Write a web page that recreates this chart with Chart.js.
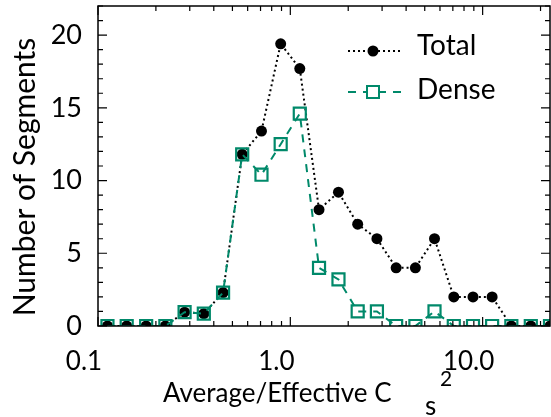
<!DOCTYPE html>
<html>
<head>
<meta charset="utf-8">
<script src="https://cdn.jsdelivr.net/npm/chart.js@4.4.1/dist/chart.umd.min.js"></script>
<style>
  html, body { margin: 0; padding: 0; background: #fff; }
  #wrap { width: 551px; height: 417px; position: relative; }
</style>
</head>
<body>
<div id="wrap"><canvas id="c"></canvas></div>
<script>
// bin centres (Average/Effective Cs^2), log spaced
const binCentres = [0.112, 0.141, 0.178, 0.224, 0.282, 0.355, 0.447, 0.562, 0.708, 0.891,
                    1.12, 1.41, 1.78, 2.24, 2.82, 3.55, 4.47, 5.62, 7.08, 8.91,
                    11.2, 14.1, 17.8, 22.4];
const totalCounts = [0, 0, 0, 0, 0.95, 0.85, 2.3, 11.8, 13.4, 19.4,
                     17.7, 8, 9.2, 7, 6, 4, 4, 6, 2, 2,
                     2, 0, 0, 0];
const denseCounts = [0, 0, 0, 0, 0.95, 0.85, 2.3, 11.8, 10.4, 12.5,
                     14.6, 4, 3.2, 1, 1, 0, 0, 1, 0, 0,
                     0, 0, 0, 0];
const xTickValues = [0.1, 1, 10];
const yTickValues = [0, 5, 10, 15, 20];

const GREEN = 'rgb(0,137,106)';
const FONT = 'Lato, "Liberation Sans", sans-serif';

// frame, inward ticks, axis titles and legend
const frameTicks = {
    id: 'frameTicks',
    afterDatasetsDraw(chart) {
        const ctx = chart.ctx, a = chart.chartArea;
        const xs = chart.scales.x, ys = chart.scales.y;
        ctx.save();
        ctx.strokeStyle = '#000';
        ctx.lineWidth = 1.5;
        ctx.strokeRect(a.left, a.top, a.right - a.left, a.bottom - a.top);
        ctx.lineWidth = 1.2;
        ctx.beginPath();
        for (let v = 0; v <= 22; v++) {
            const y = ys.getPixelForValue(v);
            const len = v % 5 === 0 ? 9 : 5;
            ctx.moveTo(a.left, y); ctx.lineTo(a.left + len, y);
            ctx.moveTo(a.right, y); ctx.lineTo(a.right - len, y);
        }
        [0.1, 1, 10].forEach(dec => {
            for (let m = 1; m <= 9; m++) {
                const v = dec * m;
                if (v > xs.max) continue;
                const x = xs.getPixelForValue(v);
                const len = m === 1 ? 9 : 5;
                ctx.moveTo(x, a.bottom); ctx.lineTo(x, a.bottom - len);
                ctx.moveTo(x, a.top); ctx.lineTo(x, a.top + len);
            }
        });
        ctx.stroke();
        ctx.restore();
    },
    afterDraw(chart) {
        const ctx = chart.ctx;
        ctx.save();
        ctx.fillStyle = '#000';
        ctx.textBaseline = 'alphabetic';

        // y axis title
        ctx.save();
        ctx.translate(35, 177);
        ctx.rotate(-Math.PI / 2);
        ctx.textAlign = 'center';
        ctx.font = '30px ' + FONT;
        ctx.fillText('Number of Segments', 0, 0);
        ctx.restore();

        // x axis title with subscript / superscript
        ctx.textAlign = 'left';
        ctx.font = '26px ' + FONT;
        ctx.fillText('Average/Effective C', 163, 402);
        ctx.fillText('s', 425, 415);
        ctx.font = '21px ' + FONT;
        ctx.fillText('2', 440, 386);

        // legend
        ctx.lineWidth = 2;
        ctx.strokeStyle = '#000';
        ctx.setLineDash([2, 3]);
        ctx.beginPath(); ctx.moveTo(348, 51); ctx.lineTo(403, 51); ctx.stroke();
        ctx.setLineDash([]);
        ctx.beginPath(); ctx.arc(373, 51, 5.5, 0, Math.PI * 2); ctx.fill();
        ctx.strokeStyle = GREEN;
        ctx.setLineDash([8, 7]);
        ctx.beginPath(); ctx.moveTo(348, 92); ctx.lineTo(403, 92); ctx.stroke();
        ctx.setLineDash([]);
        ctx.fillStyle = '#fff';
        ctx.fillRect(367, 86, 12, 12);
        ctx.strokeRect(367, 86, 12, 12);
        ctx.fillStyle = '#000';
        ctx.font = '28px ' + FONT;
        ctx.fillText('Total', 417, 55);
        ctx.fillText('Dense', 417, 99);
        ctx.restore();
    }
};

new Chart(document.getElementById('c'), {
    type: 'line',
    data: {
        datasets: [
            {
                label: 'Dense',
                data: binCentres.map((x, i) => ({ x: x, y: denseCounts[i] })),
                borderColor: GREEN,
                borderWidth: 2,
                borderDash: [8, 7],
                pointStyle: 'rect',
                pointRadius: 8.5,
                pointBorderWidth: 2.2,
                pointBorderColor: GREEN,
                pointBackgroundColor: 'rgba(0,0,0,0)',
                tension: 0,
                clip: 0
            },
            {
                label: 'Total',
                data: binCentres.map((x, i) => ({ x: x, y: totalCounts[i] })),
                borderColor: '#000',
                borderWidth: 2,
                borderDash: [2, 3],
                pointStyle: 'circle',
                pointRadius: 5.5,
                pointBorderWidth: 0,
                pointBackgroundColor: '#000',
                tension: 0,
                clip: 0
            }
        ]
    },
    options: {
        responsive: true,
        maintainAspectRatio: false,
        animation: false,
        events: [],
        layout: { autoPadding: false, padding: { left: 0, right: 1, top: 6, bottom: 0 } },
        plugins: { legend: { display: false }, tooltip: { enabled: false } },
        scales: {
            x: {
                type: 'logarithmic',
                min: 0.1,
                max: 22.4,
                grid: { display: false, drawTicks: false },
                border: { display: false },
                afterBuildTicks: s => { s.ticks = xTickValues.map(v => ({ value: v })); },
                afterFit: s => { s.height = 91; s.paddingLeft = 0; s.paddingRight = 0; },
                ticks: {
                    autoSkip: false,
                    maxRotation: 0,
                    padding: 20,
                    labelOffset: -14,
                    color: '#000',
                    font: { family: FONT, size: 26 },
                    callback: v => Number(v).toFixed(1)
                }
            },
            y: {
                min: 0,
                max: 22,
                grid: { display: false, drawTicks: false },
                border: { display: false },
                afterBuildTicks: s => { s.ticks = yTickValues.map(v => ({ value: v })); },
                afterFit: s => { s.width = 98; s.paddingTop = 0; s.paddingBottom = 0; },
                ticks: {
                    padding: 16,
                    color: '#000',
                    font: { family: FONT, size: 27 }
                }
            }
        }
    },
    plugins: [frameTicks]
});
</script>
</body>
</html>
